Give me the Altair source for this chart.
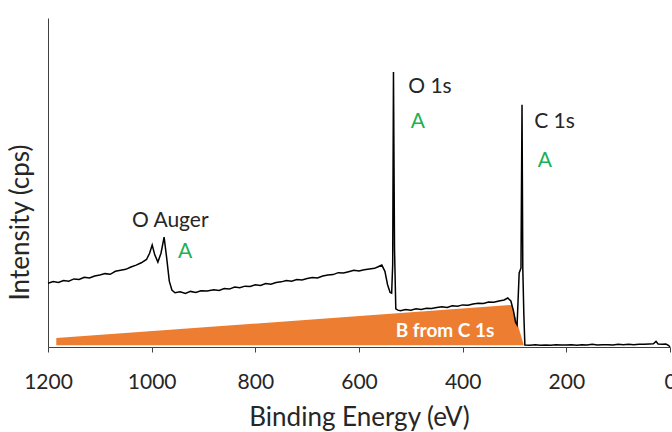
import altair as alt
import pandas as pd

# Survey spectrum: binding energy (eV) and intensity (arbitrary cps units)
energy = [
    1200, 1190, 1180, 1170, 1160, 1150, 1140, 1130, 1120, 1110, 1100, 1090,
    1080, 1070, 1060, 1050, 1040, 1030, 1020, 1010, 1004, 999, 994, 988,
    982, 976, 971, 966, 961, 955, 945, 935, 925, 915, 905, 893, 880, 870,
    860, 850, 840, 830, 820, 810, 800, 790, 780, 770, 760, 750, 740, 730,
    720, 710, 700, 690, 680, 670, 660, 650, 640, 630, 620, 610, 600, 590,
    580, 570, 563, 556, 550, 545, 540, 537, 535, 533.5, 531.5, 529, 525,
    520, 510, 500, 490, 480, 470, 460, 450, 440, 430, 420, 410, 400, 390,
    380, 370, 360, 350, 340, 330, 320, 313, 307, 302, 298, 295, 291, 287.5,
    285.5, 284, 282, 280, 270, 260, 250, 240, 230, 220, 210, 200, 190, 180,
    170, 160, 150, 140, 130, 120, 110, 100, 90, 80, 70, 60, 50, 40, 32, 27,
    23, 15, 8, 3, 0,
]
intensity = [
    19.4, 19.9, 19.6, 20.2, 20.0, 20.7, 20.5, 21.2, 21.0, 21.6, 21.9, 22.3,
    22.1, 23.0, 23.3, 23.6, 24.3, 24.9, 25.6, 26.6, 28.5, 31.0, 28.0, 25.8,
    28.5, 33.4, 27.0, 20.0, 17.3, 16.5, 16.8, 16.3, 16.9, 16.6, 17.1, 17.0,
    17.4, 17.2, 17.8, 17.6, 18.2, 18.0, 18.5, 18.4, 18.9, 18.7, 19.3, 19.1,
    19.6, 19.8, 20.2, 20.0, 20.5, 20.4, 20.8, 21.1, 21.0, 21.6, 21.9, 22.0,
    22.6, 22.5, 22.9, 23.3, 23.1, 23.5, 23.7, 23.9, 24.4, 24.9, 23.0, 19.0,
    16.6, 16.4, 25.0, 83.6, 30.0, 11.6, 11.2, 11.0, 11.4, 11.2, 11.6, 11.4,
    11.8, 11.7, 12.0, 12.2, 12.0, 12.5, 12.4, 12.8, 12.7, 13.1, 13.3, 13.2,
    13.7, 13.6, 14.0, 14.3, 14.9, 14.0, 11.0, 7.5, 6.7, 22.5, 24.0, 73.6,
    24.0, 10.0, 0.6, 0.5, 0.7, 0.5, 0.6, 0.5, 0.7, 0.6, 0.6, 0.7, 0.5, 0.7,
    0.6, 0.8, 0.6, 0.7, 0.7, 0.6, 0.8, 0.7, 0.8, 0.7, 0.8, 0.8, 0.9, 1.0,
    1.7, 0.9, 0.8, 0.9, 0.5, 0.0,
]

# Background region attributed to C 1s
bg_energy = [1184, 305, 282]
bg_top = [2.7, 12.8, 0.5]
bg_base = [0.5, 0.5, 0.5]
bg_label = ["B from C 1s"]
bg_label_energy = [434]
bg_label_intensity = [3.0]

# Peak labels and their green markers
peak_text = ["O 1s", "C 1s", "O Auger"]
peak_energy = [505, 262, 1038]
peak_intensity = [77.2, 66.6, 36.5]
mark_text = ["A", "A", "A"]
mark_energy = [500, 255, 949]
mark_intensity = [66.6, 54.7, 27.1]

x_ticks = [0, 200, 400, 600, 800, 1000, 1200]

FONT = "Lato"
TEXT_COLOR = "#262626"
AXIS_COLOR = "#404040"

spectrum = pd.DataFrame({"energy": energy, "intensity": intensity})
background = pd.DataFrame({"energy": bg_energy, "top": bg_top, "base": bg_base})
bg_text = pd.DataFrame({"energy": bg_label_energy, "intensity": bg_label_intensity, "text": bg_label})
peaks = pd.DataFrame({"energy": peak_energy, "intensity": peak_intensity, "text": peak_text})
marks = pd.DataFrame({"energy": mark_energy, "intensity": mark_intensity, "text": mark_text})

x_scale = alt.Scale(domain=[0, 1200], reverse=True, nice=False)
y_scale = alt.Scale(domain=[0, 100], nice=False)

x_axis = alt.Axis(
    values=x_ticks,
    format="d",
    title="Binding Energy (eV)",
    grid=False,
    tickSize=5,
    tickColor=AXIS_COLOR,
    domainColor=AXIS_COLOR,
    labelFlush=False,
    labelOverlap=False,
    labelFont=FONT,
    labelFontSize=21,
    labelColor=TEXT_COLOR,
    labelBaseline="alphabetic",
    labelPadding=36,
    titleFont=FONT,
    titleFontSize=26,
    titleFontWeight="normal",
    titleColor=TEXT_COLOR,
    titleBaseline="alphabetic",
    titleAlign="center",
    titleX=311,
    titleY=78,
)
y_axis = alt.Axis(
    title="Intensity (cps)",
    grid=False,
    labels=False,
    ticks=False,
    domainColor=AXIS_COLOR,
    titleFont=FONT,
    titleFontSize=26,
    titleFontWeight="normal",
    titleColor=TEXT_COLOR,
    titleAngle=270,
    titleBaseline="alphabetic",
    titleAlign="center",
    titleX=-20,
    titleY=204,
)

bg_area = alt.Chart(background).mark_area(color="#ED7D31", opacity=1).encode(
    x=alt.X("energy:Q", scale=x_scale, axis=x_axis),
    y=alt.Y("top:Q", scale=y_scale, axis=y_axis),
    y2="base:Q",
)

line = alt.Chart(spectrum).mark_line(color="black", strokeWidth=1.5).encode(
    x=alt.X("energy:Q", scale=x_scale),
    y=alt.Y("intensity:Q", scale=y_scale),
    order="energy:Q",
)

bg_label_layer = alt.Chart(bg_text).mark_text(
    font=FONT, fontSize=19, fontWeight="bold", color="white",
    align="center", baseline="alphabetic",
).encode(
    x=alt.X("energy:Q", scale=x_scale),
    y=alt.Y("intensity:Q", scale=y_scale),
    text="text:N",
)

peak_layer = alt.Chart(peaks).mark_text(
    font=FONT, fontSize=21, color=TEXT_COLOR, align="left", baseline="alphabetic",
).encode(
    x=alt.X("energy:Q", scale=x_scale),
    y=alt.Y("intensity:Q", scale=y_scale),
    text="text:N",
)

mark_layer = alt.Chart(marks).mark_text(
    font=FONT, fontSize=21, color="#1DB055", align="left", baseline="alphabetic",
).encode(
    x=alt.X("energy:Q", scale=x_scale),
    y=alt.Y("intensity:Q", scale=y_scale),
    text="text:N",
)

chart = alt.layer(bg_area, line, bg_label_layer, peak_layer, mark_layer).properties(
    width=622,
    height=329,
    autosize=alt.AutoSizeParams(type="none"),
    padding={"left": 48, "top": 18, "right": 2, "bottom": 85},
    background="white",
).configure_view(stroke=None)

chart.save("out.html", embed_options={"renderer": "svg", "actions": False})
